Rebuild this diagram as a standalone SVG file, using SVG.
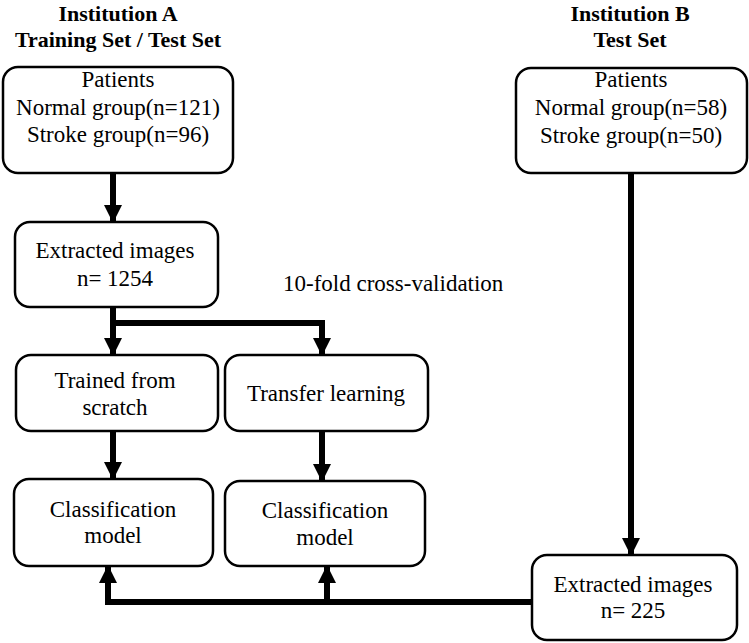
<svg xmlns="http://www.w3.org/2000/svg" width="749" height="643" viewBox="0 0 749 643">
<style>
.box{fill:#fff;stroke:#000;stroke-width:2.5}
.t{font-family:"Liberation Serif","Times New Roman",serif;font-size:23px;fill:#000;text-anchor:middle}
.h{font-family:"Liberation Serif","Times New Roman",serif;font-size:22px;font-weight:bold;fill:#000;text-anchor:middle}
.c{fill:none;stroke:#000;stroke-width:6}
</style>
<defs>
<marker id="ah" markerUnits="userSpaceOnUse" markerWidth="18" markerHeight="18" refX="17" refY="9" orient="auto" viewBox="0 0 18 18">
<path d="M0,0 L18,9 L0,18 z" fill="#000"/>
</marker>
</defs>
<rect width="749" height="643" fill="#fff"/>
<g id="titles">
<text class="h" x="118" y="21">Institution A</text>
<text class="h" x="118" y="47">Training Set / Test Set</text>
<text class="h" x="630" y="21">Institution B</text>
<text class="h" x="630" y="47">Test Set</text>
</g>
<g id="connectors">
<path class="c" d="M113,173 V222" marker-end="url(#ah)"/>
<path class="c" d="M113,307 V355" marker-end="url(#ah)"/>
<path class="c" d="M113,323 H322 V355" marker-end="url(#ah)"/>
<path class="c" d="M113,431 V479" marker-end="url(#ah)"/>
<path class="c" d="M322,431 V481" marker-end="url(#ah)"/>
<path class="c" d="M631,173 V555" marker-end="url(#ah)"/>
<path class="c" d="M532,602 H108 V566" marker-end="url(#ah)"/>
<path class="c" d="M327,602 V566" marker-end="url(#ah)"/>
<text class="t" x="283" y="291" style="text-anchor:start">10-fold cross-validation</text>
</g>
<g id="patientsA">
<rect class="box" x="3" y="67" width="230" height="106" rx="15"/>
<text class="t" x="118" y="87">Patients</text>
<text class="t" x="118" y="115">Normal group(n=121)</text>
<text class="t" x="118" y="142">Stroke group(n=96)</text>
</g>
<g id="extractedA">
<rect class="box" x="15" y="222" width="203" height="85" rx="15"/>
<text class="t" x="115" y="258">Extracted images</text>
<text class="t" x="115" y="286">n= 1254</text>
</g>
<g id="scratch">
<rect class="box" x="16" y="355" width="202" height="76" rx="15"/>
<text class="t" x="115" y="388">Trained from</text>
<text class="t" x="115" y="415">scratch</text>
</g>
<g id="transfer">
<rect class="box" x="225" y="355" width="203" height="76" rx="15"/>
<text class="t" x="326" y="401">Transfer learning</text>
</g>
<g id="classA">
<rect class="box" x="14" y="479" width="199" height="87" rx="15"/>
<text class="t" x="113" y="517">Classification</text>
<text class="t" x="113" y="543">model</text>
</g>
<g id="classB">
<rect class="box" x="225" y="481" width="200" height="85" rx="15"/>
<text class="t" x="325" y="518">Classification</text>
<text class="t" x="325" y="545">model</text>
</g>
<g id="patientsB">
<rect class="box" x="516" y="68" width="231" height="105" rx="15"/>
<text class="t" x="631" y="87">Patients</text>
<text class="t" x="631" y="115">Normal group(n=58)</text>
<text class="t" x="631" y="143">Stroke group(n=50)</text>
</g>
<g id="extractedB">
<rect class="box" x="532" y="555" width="205" height="85" rx="15"/>
<text class="t" x="633" y="592">Extracted images</text>
<text class="t" x="633" y="618">n= 225</text>
</g>
</svg>
